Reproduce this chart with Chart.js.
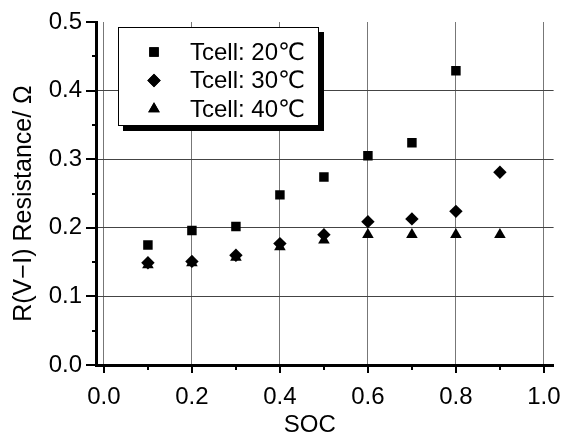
<!DOCTYPE html>
<html lang="ja">
<head>
<meta charset="UTF-8">
<title>R(V-I) Resistance vs SOC</title>
<script src="https://cdn.jsdelivr.net/npm/chart.js"></script>
<style>
  html, body { margin: 0; padding: 0; background: #fff; }
  #wrap { width: 579px; height: 439px; }
</style>
</head>
<body>
<div id="wrap"><canvas id="chart" width="579" height="439"></canvas></div>
<script>
// measured resistance at each state of charge, one array per cell temperature
const soc = [0.1, 0.2, 0.3, 0.4, 0.5, 0.6, 0.7, 0.8, 0.9];
const r20 = [0.175, 0.196, 0.202, 0.248, 0.274, 0.305, 0.324, 0.429];
const r30 = [0.149, 0.151, 0.160, 0.177, 0.190, 0.209, 0.213, 0.224, 0.281];
const r40 = [0.146, 0.149, 0.157, 0.172, 0.182, 0.190, 0.190, 0.190, 0.190];
const seriesLabels = ['Tcell: 20℃', 'Tcell: 30℃', 'Tcell: 40℃'];
const seriesStyles = ['rect', 'rectRot', 'triangle'];
const xTicks = [0.0, 0.2, 0.4, 0.6, 0.8, 1.0];
const yTicks = [0.0, 0.1, 0.2, 0.3, 0.4, 0.5];
const xTitle = 'SOC';
const yTitle = 'R(V−Ⅰ) Resistance/ Ω';

const FONT = '"Liberation Sans", "DejaVu Sans", Arial, sans-serif';
const POINT_R = 6.7;

function toPoints(values) {
  return values.map((v, i) => ({ x: soc[i], y: v }));
}

// outward tick marks (major + minor), axis titles and the boxed legend with a drop shadow
const decorations = {
  id: 'decorations',
  afterDraw(chart) {
    const { ctx, chartArea: area, scales: { x, y } } = chart;
    ctx.save();
    ctx.strokeStyle = '#000';
    ctx.lineWidth = 2;
    for (let i = 0; i <= 10; i++) {
      const py = Math.round(y.getPixelForValue(i * 0.05));
      const len = i % 2 === 0 ? 10 : 4;
      ctx.beginPath();
      ctx.moveTo(area.left - len, py);
      ctx.lineTo(area.left, py);
      ctx.stroke();
    }
    for (let i = 0; i <= 10; i++) {
      const px = Math.round(x.getPixelForValue(i * 0.1));
      const len = i % 2 === 0 ? 8 : 5;
      ctx.beginPath();
      ctx.moveTo(px, area.bottom);
      ctx.lineTo(px, area.bottom + len);
      ctx.stroke();
    }

    // axis titles
    ctx.fillStyle = '#000';
    ctx.textAlign = 'center';
    ctx.textBaseline = 'middle';
    ctx.font = '24px ' + FONT;
    ctx.fillText(xTitle, (area.left + area.right) / 2 - 15, area.bottom + 60);
    ctx.save();
    ctx.translate(24, (area.top + area.bottom) / 2 + 10);
    ctx.rotate(-Math.PI / 2);
    ctx.font = '25px ' + FONT;
    ctx.fillText(yTitle, 0, 0);
    ctx.restore();

    // legend
    const lx = area.left + 22, ly = area.top + 5, lw = 201, lh = 99;
    ctx.fillStyle = '#000';
    ctx.fillRect(lx + 5, ly + 5, lw, lh);
    ctx.fillStyle = '#fff';
    ctx.fillRect(lx, ly, lw, lh);
    ctx.lineWidth = 1;
    ctx.strokeRect(lx + 0.5, ly + 0.5, lw - 1, lh - 1);

    ctx.font = '24px ' + FONT;
    ctx.textBaseline = 'middle';
    ctx.textAlign = 'left';
    chart.data.datasets.forEach((ds, i) => {
      const rowY = ly + 25 + i * 28.5;
      ctx.fillStyle = '#000';
      Chart.helpers.drawPoint(ctx, { pointStyle: ds.pointStyle, radius: POINT_R, rotation: 0 }, lx + 36, rowY);
      ctx.fill();
      ctx.fillText(ds.label, lx + 72, rowY + 1);
    });
    ctx.restore();
  }
};

const makeSet = (label, values, style) => ({
  label,
  data: toPoints(values),
  pointStyle: style,
  pointRadius: POINT_R,
  pointHoverRadius: POINT_R,
  backgroundColor: '#000',
  borderColor: '#000',
  borderWidth: 0,
  showLine: false
});

new Chart(document.getElementById('chart'), {
  type: 'scatter',
  data: {
    datasets: [
      makeSet(seriesLabels[0], r20, seriesStyles[0]),
      makeSet(seriesLabels[1], r30, seriesStyles[1]),
      makeSet(seriesLabels[2], r40, seriesStyles[2])
    ]
  },
  options: {
    responsive: false,
    animation: false,
    layout: { padding: { top: 22, right: 19, left: 0, bottom: 0 } },
    plugins: { legend: { display: false }, tooltip: { enabled: false } },
    scales: {
      x: {
        type: 'linear',
        min: -0.018,
        max: 1.022,
        afterBuildTicks: s => { s.ticks = xTicks.map(v => ({ value: v })); },
        afterFit: s => { s.height = 74; },
        border: { display: true, color: '#000', width: 3 },
        grid: { color: '#777', lineWidth: 1, drawTicks: false },
        ticks: {
          padding: 18,
          color: '#000',
          font: { size: 24, family: FONT },
          callback: v => v.toFixed(1)
        }
      },
      y: {
        min: 0,
        max: 0.5,
        afterBuildTicks: s => { s.ticks = yTicks.map(v => ({ value: v })); },
        afterFit: s => { s.width = 96; },
        border: { display: true, color: '#000', width: 3 },
        grid: {
          drawTicks: true,
          tickLength: 10,
          tickColor: 'rgba(0,0,0,0)',
          lineWidth: 1,
          color: c => (c.tick && c.tick.value > 0.001 && c.tick.value < 0.499) ? '#444' : 'rgba(0,0,0,0)'
        },
        ticks: {
          padding: 4,
          color: '#000',
          font: { size: 24, family: FONT },
          callback: v => v.toFixed(1)
        }
      }
    }
  },
  plugins: [decorations]
});
</script>
</body>
</html>
